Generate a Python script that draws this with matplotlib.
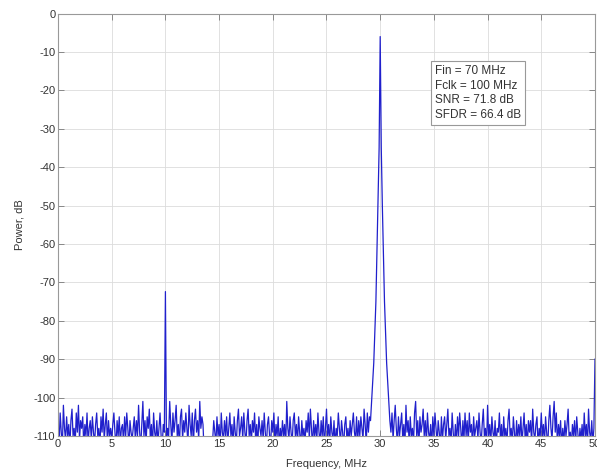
import numpy as np
import matplotlib
matplotlib.use("Agg")
import matplotlib.pyplot as plt

plt.rcParams['font.family'] = ['Liberation Sans', 'DejaVu Sans']
plt.rcParams['axes.unicode_minus'] = False

# ADC output spectrum, 0.1 MHz bins from 0 to 50 MHz (one row per MHz)
noise_db = [
    -106, -112, -104, -109, -113, -102, -108, -111, -105, -110,
    -107, -113, -106, -103, -110, -108, -112, -104, -109, -102,
    -111, -106, -108, -105, -113, -107, -110, -104, -112, -108,
    -106, -111, -105, -109, -112, -107, -104, -110, -108, -113,
    -105, -109, -103, -111, -107, -104, -112, -106, -110, -108,
    -111, -107, -104, -109, -113, -106, -110, -105, -112, -108,
    -107, -112, -105, -110, -104, -108, -113, -106, -109, -111,
    -108, -105, -111, -106, -110, -102, -109, -113, -107, -101,
    -110, -106, -112, -105, -108, -103, -111, -107, -113, -104,
    -109, -111, -106, -112, -108, -104, -110, -113, -107, -109,
    -110, -112, -108, -110, -101, -107, -112, -104, -109, -106,
    -102, -110, -107, -113, -105, -103, -111, -106, -109, -104,
    -108, -112, -102, -107, -110, -104, -113, -106, -103, -109,
    -106, -111, -101, -108, -105, -107, -114, -112, -115, -113,
    -114, -116, -112, -115, -111, -106, -109, -112, -105, -110,
    -107, -113, -104, -109, -111, -106, -110, -105, -112, -108,
    -104, -110, -107, -113, -105, -109, -112, -106, -103, -110,
    -108, -105, -111, -104, -109, -112, -106, -103, -110, -107,
    -112, -106, -109, -104, -111, -107, -113, -105, -108, -110,
    -106, -111, -104, -109, -113, -107, -105, -110, -112, -106,
    -109, -104, -112, -107, -110, -105, -113, -108, -111, -106,
    -110, -107, -113, -101, -108, -111, -105, -109, -112, -106,
    -104, -110, -107, -112, -105, -109, -113, -106, -110, -108,
    -112, -106, -109, -104, -111, -103, -108, -113, -106, -110,
    -107, -111, -104, -109, -112, -106, -110, -105, -113, -108,
    -103, -110, -107, -112, -105, -109, -111, -106, -113, -108,
    -110, -104, -108, -112, -106, -109, -113, -107, -105, -111,
    -108, -112, -106, -110, -107, -104, -109, -111, -105, -112,
    -106, -110, -105, -108, -111, -103, -107, -112, -104, -109,
    -105, -106, -101, -96, -91, -83, -75, -62, -50, -35,
    -6, -35, -50, -62, -75, -83, -91, -96, -101, -106,
    -109, -104, -111, -106, -102, -108, -112, -105, -110, -107,
    -104, -111, -107, -113, -102, -109, -106, -112, -105, -110,
    -108, -112, -104, -101, -110, -106, -113, -105, -109, -107,
    -103, -110, -106, -112, -104, -109, -111, -107, -113, -105,
    -110, -104, -108, -112, -106, -109, -113, -105, -111, -107,
    -105, -111, -107, -103, -110, -108, -112, -104, -109, -113,
    -107, -112, -105, -110, -104, -108, -113, -106, -111, -104,
    -110, -106, -112, -104, -109, -107, -113, -105, -110, -108,
    -106, -111, -104, -109, -112, -107, -103, -110, -108, -113,
    -102, -110, -107, -112, -105, -109, -111, -106, -113, -108,
    -109, -104, -111, -107, -113, -105, -110, -108, -112, -106,
    -103, -110, -108, -112, -105, -109, -113, -106, -111, -107,
    -110, -105, -112, -108, -104, -111, -107, -113, -106, -109,
    -106, -112, -103, -109, -111, -107, -105, -113, -108, -110,
    -104, -110, -107, -112, -105, -109, -113, -106, -102, -108,
    -111, -105, -101, -109, -104, -112, -107, -110, -106, -113,
    -108, -112, -106, -110, -107, -103, -111, -109, -113, -107,
    -110, -106, -112, -105, -109, -113, -108, -111, -107, -112,
    -104, -110, -107, -113, -103, -109, -111, -106, -112, -108,
    -90,
]

fin_mhz = 70
fclk_mhz = 100
snr_db = 71.8
sfdr_db = 66.4

carrier_mhz = 30.0
carrier_db = -6.0
spur_mhz = 10.0

freq = np.linspace(0, 50, len(noise_db))
power = np.array(noise_db, dtype=float)
power[np.isclose(freq, carrier_mhz)] = carrier_db
# largest spur sits SFDR below the carrier
power[np.isclose(freq, spur_mhz)] = carrier_db - sfdr_db

fig = plt.figure(figsize=(5.97, 4.71), dpi=100)
ax = fig.add_axes([0.0972, 0.0743, 0.8994, 0.897])

ax.plot(freq, power, color='#2020cc', lw=0.9)

ax.set_xlim(0, 50)
ax.set_ylim(-110, 0)
ax.set_xticks(np.arange(0, 51, 5))
ax.set_yticks(np.arange(-110, 1, 10))
ax.grid(True, color='#dcdcdc', lw=0.6)
ax.set_axisbelow(True)
ax.tick_params(direction='in', top=True, right=True, length=4, width=0.7,
               color='#888888', labelsize=8, labelcolor='#333333', pad=2)
for s in ax.spines.values():
    s.set_color('#999999')
    s.set_linewidth(0.8)

ax.set_xlabel('Frequency, MHz', fontsize=8, color='#333333', labelpad=7)
ax.set_ylabel('Power, dB', fontsize=8, color='#333333', labelpad=6)

info = (f'Fin = {fin_mhz} MHz\nFclk = {fclk_mhz} MHz\n'
        f'SNR = {snr_db} dB\nSFDR = {sfdr_db} dB')
ax.text(0.702, 0.878, info, transform=ax.transAxes, fontsize=8.5,
        color='#333333', va='top', ha='left', linespacing=1.3,
        bbox=dict(boxstyle='square,pad=0.35', fc='white', ec='#999999', lw=0.8))

fig.savefig('out.png', dpi=100)
